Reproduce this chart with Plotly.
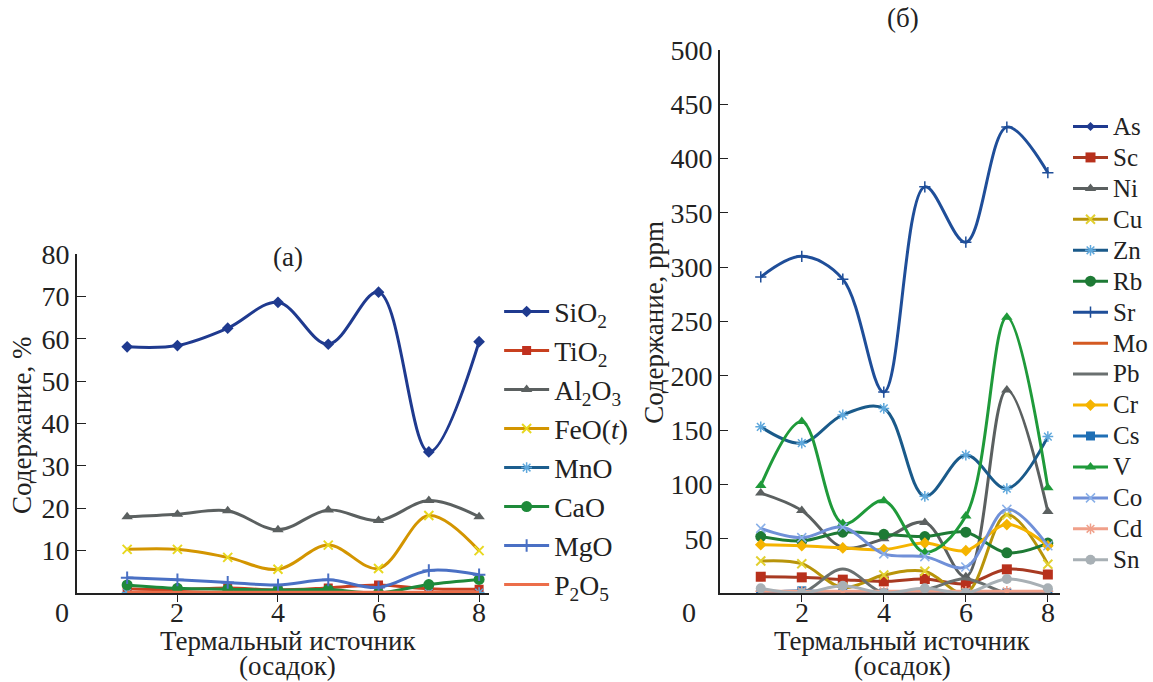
import plotly.graph_objects as go

# ---------------- data ----------------
samples = [1, 2, 3, 4, 5, 6, 7, 8]

# (а) major oxides, %
SiO2 = [58.1, 58.4, 62.5, 68.6, 58.7, 71.0, 33.3, 59.3]
TiO2 = [1.0, 0.8, 1.2, 0.7, 1.2, 1.9, 1.0, 0.9]
Al2O3 = [18.0, 18.6, 19.4, 14.9, 19.6, 17.1, 21.8, 18.0]
FeOt = [10.3, 10.3, 8.4, 5.6, 11.3, 5.8, 18.3, 10.0]
MnO = [0.1, 0.1, 0.1, 0.1, 0.1, 0.1, 0.1, 0.1]
CaO = [1.9, 1.1, 0.9, 0.7, 0.8, 0.0, 2.0, 3.2]
MgO = [3.6, 3.1, 2.5, 1.9, 3.1, 1.3, 5.3, 4.3]
P2O5 = [0.2, 0.2, 0.2, 0.2, 0.2, 0.2, 0.2, 0.2]

# (б) trace elements, ppm
As = [0.5, 0.5, 0.5, 0.5, 0.5, 0.5, 0.5, 0.5]
Sc = [15.0, 14.4, 12.3, 10.7, 12.9, 8.5, 21.8, 17.0]
Ni = [92, 76, 42, 50, 65, 15, 187, 75]
Cu = [29.5, 27.0, 5.0, 16.5, 20.0, 0.0, 72.0, 26.5]
Zn = [153, 138, 164, 170, 89, 127, 96, 144]
Rb = [52, 48, 56, 54, 52, 56, 37, 46]
Sr = [291, 310, 289, 185, 374, 323, 429, 387]
Mo = [1.0, 1.0, 1.0, 1.0, 1.0, 1.0, 1.0, 1.0]
Pb = [0, 0, 22, 0, 3, 13, 0, 0]
Cr = [44.5, 43.5, 41.5, 40.0, 46.0, 39.0, 63.0, 43.5]
Cs = [0, 2, 0, 0, 0, 0, 0, 0]
V = [99, 158, 64, 85, 37.5, 71, 254, 97]
Co = [59.5, 51, 60.5, 36, 33.5, 24, 77, 43.5]
Cd = [1.5, 1.5, 1.5, 1.5, 1.5, 1.5, 1.5, 1.5]
Sn = [4.3, 0, 6.7, 0, 4.3, 0, 12.9, 4.3]

left_ticks = [10, 20, 30, 40, 50, 60, 70, 80]
right_ticks = [50, 100, 150, 200, 250, 300, 350, 400, 450, 500]
x_ticks = [2, 4, 6, 8]
x_ticklabels = ["2", "4", "6", "8"]

FONT = "Liberation Serif, Times New Roman, serif"
INK = "#222"

fig = go.Figure()

def add(name, y, color, symbol=None, msize=8, mcolor=None, mline=None,
        xa="x", ya="y", legend="legend", width=3.0, tsize=28):
    mode = "lines+markers" if symbol else "lines"
    marker = dict(symbol=symbol or "circle", size=msize, color=mcolor or color)
    if mline is not None:
        marker["line"] = dict(width=mline[0], color=mline[1])
    label = name if legend == "legend" else f'<span style="font-size:{tsize}px">{name}</span>'
    fig.add_trace(go.Scatter(
        x=samples, y=y, name=label, mode=mode,
        line=dict(color=color, width=width, shape="spline", smoothing=1.0),
        marker=marker, xaxis=xa, yaxis=ya, legend=legend,
    ))

# left panel
add("SiO<sub>2</sub>", SiO2, "#1f3a8f", "diamond", 9)
add("TiO<sub>2</sub>", TiO2, "#c8401f", "square", 9, "#c0301f")
add("Al<sub>2</sub>O<sub>3</sub>", Al2O3, "#5b6060", "triangle-up", 10)
add("FeO(<i>t</i>)", FeOt, "#d39500", "x-thin-open", 9, "#e8d820", (2, "#e8d820"))
add("MnO", MnO, "#1d5e8e", "asterisk-open", 9, "#5fa8dc", (1.5, "#5fa8dc"))
add("CaO", CaO, "#1e8a3a", "circle", 11)
add("MgO", MgO, "#4a70c4", "cross-thin-open", 9, "#4a70c4", (2, "#4a70c4"))
add("P<sub>2</sub>O<sub>5</sub>", P2O5, "#ec6e4a")

# right panel
R = dict(xa="x2", ya="y2", legend="legend2", tsize=25)
add("As", As, "#1f3a8f", "diamond", 7, **R)
add("Sc", Sc, "#a83a22", "square", 10, "#b8301c", **R)
add("Ni", Ni, "#5b6060", "triangle-up", 10, **R)
add("Cu", Cu, "#b8940a", "x-thin-open", 9, "#e2d030", (2, "#e2d030"), **R)
add("Zn", Zn, "#1a5a8a", "asterisk-open", 9, "#5fa8dc", (1.5, "#5fa8dc"), **R)
add("Rb", Rb, "#1e7a35", "circle", 11, **R)
add("Sr", Sr, "#1f4e99", "cross-thin-open", 8, "#1f4e99", (1.5, "#1f4e99"), **R)
add("Mo", Mo, "#d45a22", **R)
add("Pb", Pb, "#6a7070", **R)
add("Cr", Cr, "#f5b400", "diamond", 9, "#f5b400", **R)
add("Cs", Cs, "#1f6fb5", "square", 9, **R)
add("V", V, "#1f9a3a", "triangle-up", 10, **R)
add("Co", Co, "#7090d8", "x-thin-open", 9, "#8ab0e8", (1.5, "#8ab0e8"), **R)
add("Cd", Cd, "#f0a08a", "asterisk-open", 9, "#f0a08a", (1.5, "#f0a08a"), **R)
add("Sn", Sn, "#a8b0b5", "circle", 10, **R)

W, H = 1153, 682
def px(x): return x / W
def py(y): return (H - y) / H

axis_common = dict(showline=True, linecolor=INK, linewidth=1.5, showgrid=False,
                   zeroline=False, tickcolor=INK, automargin=False,
                   tickfont=dict(family=FONT, size=28, color=INK))

fig.update_layout(
    template="none",
    width=W, height=H, margin=dict(l=0, r=0, t=0, b=0, pad=0),
    paper_bgcolor="white", plot_bgcolor="white",
    font=dict(family=FONT, color=INK),
    showlegend=True,
    xaxis=dict(domain=[px(77), px(490)], range=[0, 8.2], anchor="y",
               tickvals=x_ticks, ticks="outside", ticklen=7, showticklabels=False,
               **axis_common),
    yaxis=dict(domain=[py(593), py(254)], range=[0, 80], anchor="x",
               tickvals=left_ticks, ticks="inside", ticklen=9, **axis_common),
    xaxis2=dict(domain=[px(721), px(1062)], range=[0, 8.3], anchor="y2",
                tickvals=x_ticks, ticks="outside", ticklen=7, showticklabels=False,
                **axis_common),
    yaxis2=dict(domain=[py(593), py(50)], range=[0, 500], anchor="x2",
                tickvals=right_ticks, ticks="inside", ticklen=9, **axis_common),
    legend=dict(x=px(500), y=py(287), xanchor="left", yanchor="top",
                font=dict(family=FONT, size=27.7, color=INK),
                itemwidth=45, bgcolor="rgba(0,0,0,0)", borderwidth=0),
    legend2=dict(x=px(1070), y=py(106), xanchor="left", yanchor="top",
                 font=dict(family=FONT, size=21.5, color=INK),
                 itemwidth=35, bgcolor="rgba(0,0,0,0)", borderwidth=0),
)

ANN_FONT = dict(family=FONT, size=27, color=INK)
ann = [
    dict(text="(а)", x=px(288), y=py(257)),
    dict(text="(б)", x=px(905), y=py(18)),
    dict(text="0", x=px(62), y=py(612), font=dict(family=FONT, size=28, color=INK)),
    dict(text="0", x=px(690), y=py(612), font=dict(family=FONT, size=28, color=INK)),
    dict(text="Термальный источник", x=px(288), y=py(641)),
    dict(text="(осадок)", x=px(288), y=py(666)),
    dict(text="Термальный источник", x=px(904), y=py(641)),
    dict(text="(осадок)", x=px(904), y=py(666)),
    dict(text="Содержание, %", x=px(22), y=py(425), textangle=-90),
    dict(text="Содержание, ppm", x=px(655), y=py(322), textangle=-90),
]
for a in ann:
    a.setdefault("font", ANN_FONT)
    fig.add_annotation(xref="paper", yref="paper", showarrow=False,
                       xanchor="center", yanchor="middle", **a)

# x tick labels placed through the data x-axis scale
for xr in ("x", "x2"):
    for v, t in zip(x_ticks, x_ticklabels):
        fig.add_annotation(xref=xr, yref="paper", x=v, y=py(612), text=t,
                           showarrow=False, xanchor="center", yanchor="middle",
                           font=dict(family=FONT, size=28, color=INK))

fig.write_html("out.html", config={"displayModeBar": False},
               post_script="document.body.style.margin='0';")
